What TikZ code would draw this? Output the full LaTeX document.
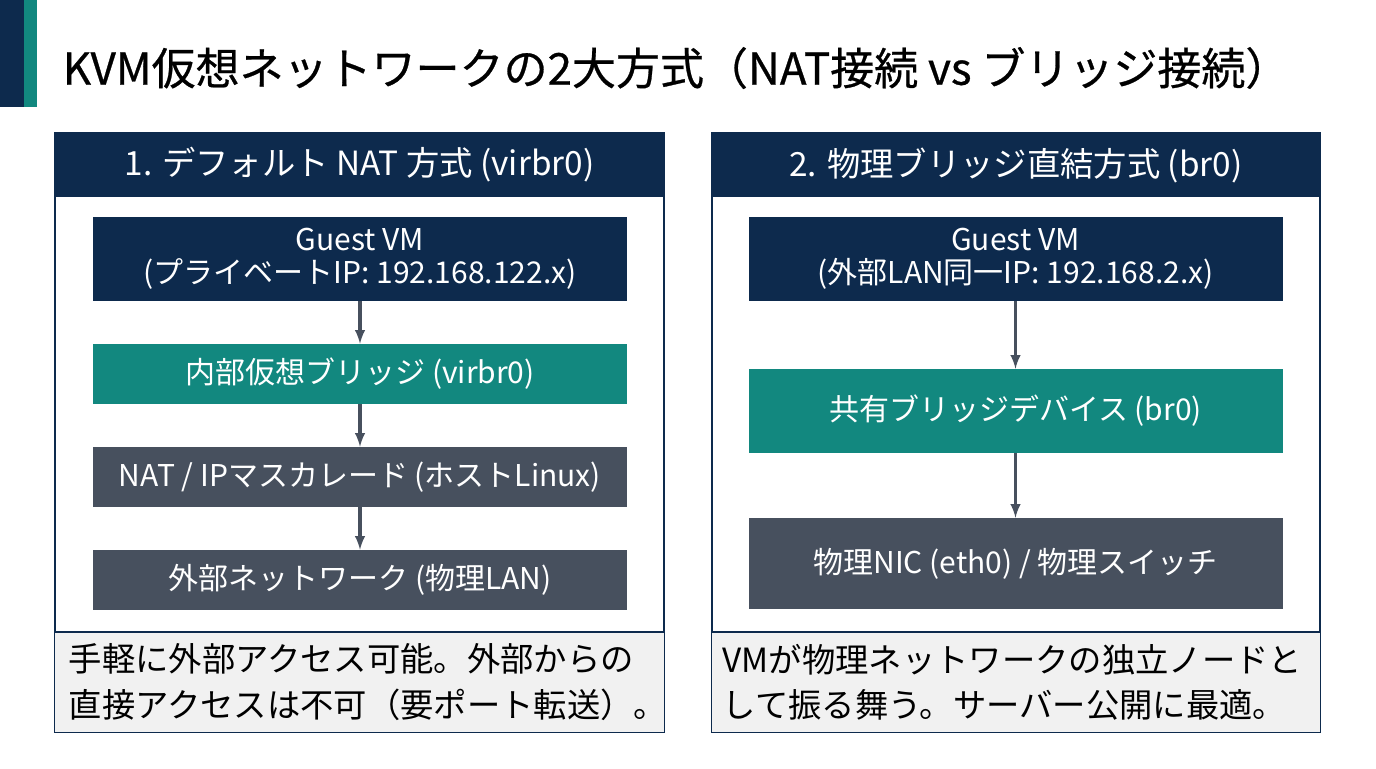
\documentclass[tikz,border=0pt]{standalone}
\usepackage{fontspec}
\setmainfont{Noto Sans CJK JP}
\newfontfamily\titlefont{Noto Sans CJK JP}[FakeBold=0.6]
\usetikzlibrary{positioning}
\definecolor{navy}{HTML}{0D2A4D}
\definecolor{teal}{HTML}{12887F}
\definecolor{slate}{HTML}{47505E}
\definecolor{note}{HTML}{F1F1F1}
\tikzset{
  box/.style={minimum width=534pt*0.75, align=center, inner sep=0pt, text=white, font=\fontsize{22.5}{25}\selectfont},
  head/.style={fill=navy, text=white, minimum width=609pt*0.75, minimum height=64pt*0.75, inner sep=0pt, font=\fontsize{25}{28}\selectfont},
  flow/.style={-latex, draw=slate, line width=2.5pt},
}
\begin{document}
\begin{tikzpicture}[x=0.75pt,y=-0.75pt]
  \useasboundingbox (0,0) rectangle (1376,768);
  % accent bar
  \fill[navy] (0,0) rectangle (24,107);
  \fill[teal] (24,0) rectangle (37,107);
  % title
  \node[anchor=west, font=\titlefont\fontsize{33}{36}\selectfont] (title) at (58,68) {KVM仮想ネットワークの2大方式（NAT接続 vs ブリッジ接続）};

  % left panel
  \draw[navy, line width=1pt] (55,133) rectangle (664,732);
  \node[head] (lhead) at (359.5,165) {1. デフォルト NAT 方式 (virbr0)};
  \fill[note] (55,632) rectangle (664,732);
  \draw[navy, line width=1pt] (55,632) -- (664,632);
  \node[anchor=west, align=left, font=\fontsize{25}{34}\selectfont] (lnote) at (64,682)
    {手軽に外部アクセス可能。外部からの\\直接アクセスは不可（要ポート転送）。};
  \node[box, fill=navy, minimum height=84pt*0.75] (lvm) at (360,259) {Guest VM\\(プライベートIP: 192.168.122.x)};
  \node[box, fill=teal, minimum height=60pt*0.75] (lbr) at (360,374) {内部仮想ブリッジ (virbr0)};
  \node[box, fill=slate, minimum height=60pt*0.75] (lnat) at (360,477) {NAT / IPマスカレード (ホストLinux)};
  \node[box, fill=slate, minimum height=60pt*0.75] (lext) at (360,580) {外部ネットワーク (物理LAN)};
  \draw[flow] (lvm) -- (lbr);
  \draw[flow] (lbr) -- (lnat);
  \draw[flow] (lnat) -- (lext);

  % right panel
  \draw[navy, line width=1pt] (712,133) rectangle (1320,732);
  \node[head, minimum width=608pt*0.75] (rhead) at (1016,165) {2. 物理ブリッジ直結方式 (br0)};
  \fill[note] (712,632) rectangle (1320,732);
  \draw[navy, line width=1pt] (712,632) -- (1320,632);
  \node[anchor=west, align=left, font=\fontsize{25}{34}\selectfont] (rnote) at (718,682)
    {VMが物理ネットワークの独立ノードと\\して振る舞う。サーバー公開に最適。};
  \node[box, fill=navy, minimum height=84pt*0.75] (rvm) at (1015.5,259) {Guest VM\\(外部LAN同一IP: 192.168.2.x)};
  \node[box, fill=teal, minimum height=84pt*0.75] (rbr) at (1015.5,411) {共有ブリッジデバイス (br0)};
  \node[box, fill=slate, minimum height=91pt*0.75] (rnic) at (1015.5,563.5) {物理NIC (eth0) / 物理スイッチ};
  \draw[flow] (rvm) -- (rbr);
  \draw[flow] (rbr) -- (rnic);
\end{tikzpicture}
\end{document}
